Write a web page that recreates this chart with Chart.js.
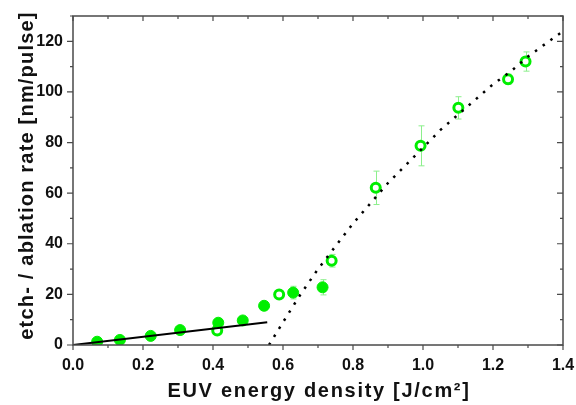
<!DOCTYPE html>
<html>
<head>
<meta charset="utf-8">
<script src="https://cdn.jsdelivr.net/npm/chart.js@4"></script>
<style>
  body { margin: 0; background: #fff; }
</style>
</head>
<body>
<canvas id="chart" width="576" height="405"></canvas>
<script>
// filled markers (etch regime)
const filledE = [0.069, 0.134, 0.222, 0.306, 0.415, 0.485, 0.546, 0.629, 0.713];
const filledRate = [1.3, 2.0, 3.6, 5.9, 8.8, 9.7, 15.5, 20.7, 22.8];
const filledErr = [0, 0, 0, 0, 0, 0, 0, 2.5, 3];

// open markers (ablation regime)
const openE = [0.412, 0.589, 0.739, 0.865, 0.993, 1.101, 1.243, 1.293];
const openRate = [5.7, 20.0, 33.3, 62.1, 78.7, 93.7, 105, 112];
const openErr = [0, 0.8, 2.5, 6.6, 7.9, 4.4, 2, 3.8];

// solid fit line (low fluence)
const fitE = [0, 0.555];
const fitRate = [0, 9.0];

// dotted fit curve (above threshold)
const curveE = [0.56, 0.6, 0.65, 0.7, 0.75, 0.8, 0.85, 0.9, 0.95, 1.0, 1.05, 1.1, 1.15, 1.2, 1.25, 1.3, 1.35, 1.4];
const curveRate = [0, 9, 20, 30, 39, 48, 56, 64, 71, 78, 85, 91, 97, 103, 108, 114, 119, 124];

const xTicks = [0, 0.2, 0.4, 0.6, 0.8, 1.0, 1.2, 1.4];
const yTicks = [0, 20, 40, 60, 80, 100, 120];

const xTitle = 'EUV energy density [J/cm²]';
const yTitle = 'etch- / ablation rate [nm/pulse]';

const green = '#00ee00';
const errColor = '#8cef8c';
const fontFamily = 'Liberation Sans, Arial';

function pts(xs, ys) {
  return xs.map((x, i) => ({ x: x, y: ys[i] }));
}

const errorBars = {
  id: 'errorBars',
  beforeDatasetsDraw(chart) {
    const ctx = chart.ctx;
    const xs = chart.scales.x, ys = chart.scales.y;
    ctx.save();
    ctx.strokeStyle = errColor;
    ctx.lineWidth = 1;
    const sets = [[filledE, filledRate, filledErr], [openE, openRate, openErr]];
    sets.forEach(s => {
      s[0].forEach((e, i) => {
        if (!s[2][i]) return;
        const px = Math.round(xs.getPixelForValue(e)) + 0.5;
        const top = ys.getPixelForValue(s[1][i] + s[2][i]);
        const bot = ys.getPixelForValue(s[1][i] - s[2][i]);
        ctx.beginPath();
        ctx.moveTo(px, top); ctx.lineTo(px, bot);
        ctx.moveTo(px - 3, top); ctx.lineTo(px + 3, top);
        ctx.moveTo(px - 3, bot); ctx.lineTo(px + 3, bot);
        ctx.stroke();
      });
    });
    ctx.restore();
  }
};

// frame, inner/outer ticks with minor ticks, and the two axis titles
const frameTicks = {
  id: 'frameTicks',
  afterDraw(chart) {
    const ctx = chart.ctx;
    const a = chart.chartArea;
    const xs = chart.scales.x, ys = chart.scales.y;
    ctx.save();
    ctx.strokeStyle = '#4a4a4a';
    ctx.lineWidth = 1.5;
    ctx.strokeRect(a.left, a.top, a.right - a.left, a.bottom - a.top);
    ctx.lineWidth = 1.2;
    ctx.beginPath();
    for (let v = 0; v <= 1.4001; v += 0.1) {
      const major = Math.abs(v / 0.2 - Math.round(v / 0.2)) < 0.01;
      const px = xs.getPixelForValue(v);
      const len = major ? 5 : 3;
      ctx.moveTo(px, a.bottom); ctx.lineTo(px, a.bottom + len);
      ctx.moveTo(px, a.top); ctx.lineTo(px, a.top + len);
    }
    for (let v = 0; v <= 130; v += 10) {
      const major = v % 20 === 0;
      const py = ys.getPixelForValue(v);
      const len = major ? 6 : 3;
      ctx.moveTo(a.left, py); ctx.lineTo(a.left - len, py);
      ctx.moveTo(a.right, py); ctx.lineTo(a.right - len, py);
    }
    ctx.stroke();

    ctx.fillStyle = '#111';
    ctx.font = 'bold 20px ' + fontFamily;
    ctx.textAlign = 'center';
    ctx.textBaseline = 'alphabetic';
    ctx.letterSpacing = '1.7px';
    ctx.fillText(xTitle, (a.left + a.right) / 2 + 1, 397);

    ctx.letterSpacing = '1.2px';
    ctx.translate(33, (a.top + a.bottom) / 2 - 5);
    ctx.rotate(-Math.PI / 2);
    ctx.fillText(yTitle, 0, 0);
    ctx.restore();
  }
};

new Chart(document.getElementById('chart'), {
  type: 'scatter',
  data: {
    datasets: [
      {
        data: pts(fitE, fitRate),
        showLine: true,
        borderColor: '#000',
        borderWidth: 2,
        pointRadius: 0
      },
      {
        data: pts(curveE, curveRate),
        showLine: true,
        borderColor: '#000',
        borderWidth: 2.5,
        borderDash: [2.5, 7],
        pointRadius: 0
      },
      {
        data: pts(openE, openRate),
        pointRadius: 4.5,
        borderWidth: 3,
        borderColor: green,
        backgroundColor: '#fff'
      },
      {
        data: pts(filledE, filledRate),
        pointRadius: 5.5,
        borderWidth: 1,
        borderColor: green,
        backgroundColor: green
      }
    ]
  },
  options: {
    responsive: false,
    animation: false,
    devicePixelRatio: 1,
    layout: { padding: { top: 16, right: 13, left: 0, bottom: 0 } },
    plugins: {
      legend: { display: false },
      tooltip: { enabled: false }
    },
    scales: {
      x: {
        type: 'linear',
        min: 0,
        max: 1.4,
        afterFit: s => { s.height = 60; s.paddingLeft = 0; s.paddingRight = 0; },
        afterBuildTicks: s => { s.ticks = xTicks.map(v => ({ value: v })); },
        grid: { display: false, drawTicks: false },
        border: { display: false },
        ticks: {
          padding: 11,
          color: '#111',
          font: { family: fontFamily, size: 16, weight: 'bold' },
          callback: v => v.toFixed(1)
        }
      },
      y: {
        type: 'linear',
        min: 0,
        max: 130,
        afterFit: s => { s.width = 73; s.paddingTop = 0; s.paddingBottom = 0; },
        afterBuildTicks: s => { s.ticks = yTicks.map(v => ({ value: v })); },
        grid: { display: false, drawTicks: false },
        border: { display: false },
        ticks: {
          padding: 10,
          color: '#111',
          font: { family: fontFamily, size: 16, weight: 'bold' }
        }
      }
    }
  },
  plugins: [errorBars, frameTicks]
});
</script>
</body>
</html>
